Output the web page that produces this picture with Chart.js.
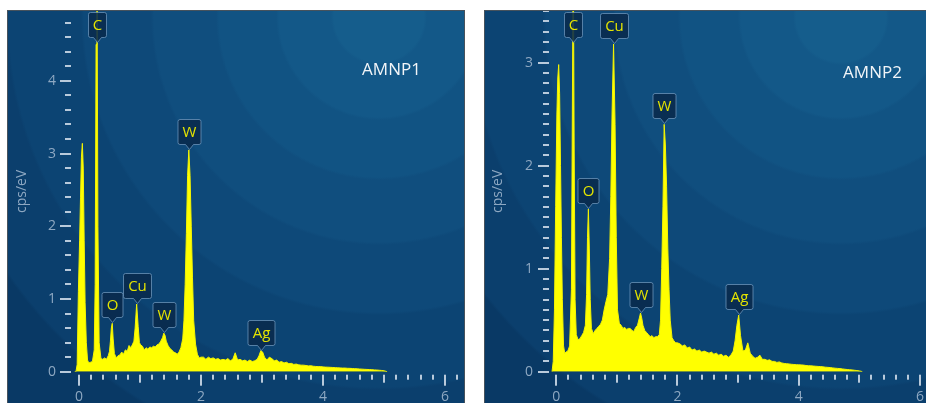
<!DOCTYPE html>
<html>
<head>
<meta charset="utf-8">
<title>EDS spectra AMNP1 / AMNP2</title>
<script src="https://cdn.jsdelivr.net/npm/chart.js@4.4.1/dist/chart.umd.min.js"></script>
<style>
  html, body { margin: 0; padding: 0; background: #ffffff; }
  body { position: relative; width: 926px; height: 403px; overflow: hidden; }
  .panel { position: absolute; top: 10px; border: 1px solid #47525c; border-bottom: none; }
  #panel1 { left: 7px; }
  #panel2 { left: 484px; border-right: none; }
  canvas { display: block; }
</style>
</head>
<body>
<div class="panel" id="panel1"><canvas id="amnp1" width="456" height="392"></canvas></div>
<div class="panel" id="panel2"><canvas id="amnp2" width="441" height="392"></canvas></div>
<script>
// energy channels shared by both spectra (keV)
const energy = [
  -0.07, -0.05, -0.03, -0.01, 0.01, 0.025, 0.04, 0.055, 0.07, 0.085,
  0.10, 0.12, 0.14, 0.16, 0.19, 0.22, 0.25, 0.265, 0.28, 0.295,
  0.31, 0.33, 0.36, 0.39, 0.42, 0.45, 0.48, 0.50, 0.515, 0.53,
  0.545, 0.56, 0.58, 0.61, 0.64, 0.67, 0.70, 0.73, 0.76, 0.79,
  0.82, 0.85, 0.88, 0.90, 0.92, 0.945, 0.97, 0.99, 1.01, 1.04,
  1.07, 1.10, 1.13, 1.16, 1.19, 1.22, 1.25, 1.28, 1.31, 1.34,
  1.37, 1.39, 1.41, 1.43, 1.46, 1.49, 1.52, 1.55, 1.58, 1.61,
  1.64, 1.67, 1.70, 1.72, 1.74, 1.76, 1.78, 1.80, 1.82, 1.84,
  1.86, 1.88, 1.91, 1.94, 1.97, 2.00, 2.04, 2.08, 2.12, 2.16,
  2.20, 2.24, 2.28, 2.32, 2.36, 2.40, 2.44, 2.48, 2.52, 2.56,
  2.60, 2.64, 2.68, 2.72, 2.76, 2.80, 2.84, 2.88, 2.92, 2.95,
  2.98, 3.01, 3.04, 3.08, 3.12, 3.16, 3.20, 3.24, 3.28, 3.32,
  3.36, 3.40, 3.44, 3.48, 3.52, 3.56, 3.60, 3.64, 3.68, 3.72,
  3.76, 3.80, 3.84, 3.88, 3.92, 3.96, 4.00, 4.04, 4.08, 4.12,
  4.16, 4.20, 4.24, 4.28, 4.32, 4.36, 4.40, 4.44, 4.48, 4.52,
  4.56, 4.60, 4.64, 4.68, 4.72, 4.76, 4.80, 4.84, 4.88, 4.92,
  4.96, 5.00, 5.03, 5.05
];

// cps/eV, AMNP1
const amnp1 = [
  0, 0, 0.1, 1.1, 1.8, 2.4, 2.95, 3.14, 2.8, 1.8,
  0.95, 0.4, 0.16, 0.12, 0.13, 0.14, 0.3, 1.2, 4.5, 5.5,
  2.0, 0.4, 0.18, 0.17, 0.19, 0.17, 0.22, 0.28, 0.42, 0.6,
  0.665, 0.45, 0.25, 0.19, 0.22, 0.23, 0.27, 0.24, 0.3, 0.28,
  0.36, 0.33, 0.38, 0.42, 0.6, 0.93, 0.62, 0.4, 0.37, 0.35,
  0.3, 0.33, 0.31, 0.34, 0.33, 0.35, 0.34, 0.37, 0.38, 0.42,
  0.47, 0.53, 0.5, 0.42, 0.36, 0.32, 0.3, 0.27, 0.26, 0.24,
  0.27, 0.33, 0.45, 0.7, 1.2, 1.9, 2.7, 3.05, 2.7, 2.0,
  1.3, 0.7, 0.38, 0.24, 0.19, 0.2, 0.2, 0.17, 0.2, 0.18,
  0.19, 0.17, 0.18, 0.16, 0.17, 0.16, 0.18, 0.15, 0.17, 0.26,
  0.16, 0.17, 0.15, 0.16, 0.14, 0.16, 0.14, 0.15, 0.17, 0.22,
  0.29, 0.27, 0.2, 0.16, 0.2, 0.18, 0.15, 0.16, 0.13, 0.14,
  0.12, 0.13, 0.11, 0.115, 0.1, 0.105, 0.095, 0.09, 0.09, 0.085,
  0.08, 0.082, 0.075, 0.072, 0.07, 0.07, 0.066, 0.063, 0.062, 0.06,
  0.058, 0.056, 0.054, 0.052, 0.05, 0.05, 0.047, 0.046, 0.044, 0.042,
  0.04, 0.037, 0.035, 0.033, 0.031, 0.03, 0.028, 0.025, 0.023, 0.02,
  0.017, 0.012, 0.006, 0
];

// cps/eV, AMNP2
const amnp2 = [
  0, 0.1, 0.6, 1.6, 2.5, 2.85, 2.98, 2.7, 2.0, 1.3,
  0.7, 0.25, 0.18, 0.19, 0.2, 0.25, 0.8, 2.5, 4.2, 2.2,
  0.7, 0.36, 0.31, 0.32, 0.35, 0.38, 0.45, 0.75, 1.3, 1.58,
  1.2, 0.7, 0.42, 0.37, 0.4, 0.42, 0.44, 0.46, 0.5, 0.6,
  0.68, 0.75, 1.1, 1.7, 2.5, 3.18, 2.4, 1.3, 0.6, 0.47,
  0.45, 0.42, 0.43, 0.41, 0.42, 0.42, 0.4, 0.39, 0.43, 0.45,
  0.52, 0.57, 0.52, 0.45, 0.4, 0.38, 0.36, 0.34, 0.35, 0.33,
  0.34, 0.34, 0.36, 0.5, 1.0, 1.6, 2.4, 2.2, 1.8, 1.2,
  0.8, 0.5, 0.33, 0.3, 0.28, 0.28, 0.27, 0.25, 0.26, 0.23,
  0.24, 0.21, 0.22, 0.2, 0.21, 0.19, 0.2, 0.19, 0.18, 0.19,
  0.17, 0.18, 0.16, 0.17, 0.15, 0.16, 0.14, 0.16, 0.2, 0.3,
  0.45, 0.55, 0.35, 0.2, 0.21, 0.28, 0.18, 0.15, 0.13, 0.14,
  0.16, 0.12, 0.12, 0.11, 0.115, 0.1, 0.1, 0.09, 0.095, 0.085,
  0.08, 0.078, 0.075, 0.072, 0.07, 0.068, 0.067, 0.066, 0.064, 0.06,
  0.058, 0.057, 0.055, 0.053, 0.051, 0.05, 0.047, 0.044, 0.042, 0.04,
  0.037, 0.034, 0.032, 0.03, 0.027, 0.024, 0.021, 0.019, 0.017, 0.014,
  0.011, 0.008, 0.004, 0
];

// element markers
const peaks1 = ["C", "O", "Cu", "W", "W", "Ag"];
const peakEnergy1 = [0.29, 0.545, 0.945, 1.40, 1.80, 2.99];
const peaks2 = ["C", "O", "Cu", "W", "W", "Ag"];
const peakEnergy2 = [0.28, 0.53, 0.945, 1.39, 1.78, 3.01];

// labelled ticks
const xLabels = [0, 2, 4, 6];
const yLabels1 = [0, 1, 2, 3, 4];
const yLabels2 = [0, 1, 2, 3];

const labelColor = "#8ea8c2";
const markColor = "#b9cadb";

const panelBackground = {
    id: "panelBackground",
    beforeDraw(chart) {
        const { ctx, width, height } = chart;
        const cx = width - 85, cy = 6, R = 600;
        const radii = [45, 100, 160, 225, 295, 370, 450, 600];
        const colors = ["#155d8c", "#135888", "#115383", "#104e7e", "#0e4979", "#0c4473", "#0b3f6d", "#093965"];
        const g = ctx.createRadialGradient(cx, cy, 0, cx, cy, R);
        let prev = 0;
        radii.forEach((r, i) => {
            g.addColorStop(prev, colors[i]);
            g.addColorStop(Math.min(r / R, 1), colors[i]);
            prev = Math.min(r / R + 0.005, 1);
        });
        ctx.save();
        ctx.fillStyle = g;
        ctx.fillRect(0, 0, width, height);
        ctx.restore();
    }
};

// minor / medium / major tick marks along both axes
const tickMarks = {
    id: "tickMarks",
    afterDraw(chart, args, opts) {
        const { ctx, chartArea, scales: { x, y } } = chart;
        ctx.save();
        ctx.fillStyle = markColor;
        for (let k = Math.ceil(x.min / 0.2); k <= Math.floor(x.max / 0.2); k++) {
            const len = k % 10 === 0 ? 11 : (k % 5 === 0 ? 8 : 5);
            const px = Math.round(x.getPixelForValue(k * 0.2));
            ctx.fillRect(px - 1, chartArea.bottom + 3, 2, len);
        }
        const n = opts.yPerUnit;
        for (let k = 0; k <= Math.floor(y.max * n + 1e-6); k++) {
            const len = k % n === 0 ? 11 : 6;
            const py = Math.round(y.getPixelForValue(k / n));
            ctx.fillRect(chartArea.left - len, py - 1, len, 2);
        }
        ctx.restore();
    }
};

const peakTags = {
    id: "peakTags",
    afterDatasetsDraw(chart, args, opts) {
        const { ctx, chartArea, scales: { x, y } } = chart;
        const pts = chart.data.datasets[0].data;
        ctx.save();
        ctx.font = '15px "Open Sans"';
        ctx.textAlign = "center";
        ctx.textBaseline = "middle";
        opts.names.forEach((name, i) => {
            const e = opts.energies[i];
            let top = 0;
            pts.forEach(p => { if (Math.abs(p.x - e) <= 0.021 && p.y > top) top = p.y; });
            const px = Math.round(x.getPixelForValue(e)) + 0.5;
            const py = y.getPixelForValue(top);
            const w = Math.round(ctx.measureText(name).width + 9), h = 25;
            const bx = px - w / 2;
            const by = Math.round(Math.max(py - 6 - h, chartArea.top + 1)) + 0.5;
            const r = 2;
            ctx.beginPath();
            ctx.moveTo(bx + r, by);
            ctx.lineTo(bx + w - r, by);
            ctx.quadraticCurveTo(bx + w, by, bx + w, by + r);
            ctx.lineTo(bx + w, by + h - r);
            ctx.quadraticCurveTo(bx + w, by + h, bx + w - r, by + h);
            ctx.lineTo(px + 4, by + h);
            ctx.lineTo(px, by + h + 5);
            ctx.lineTo(px - 4, by + h);
            ctx.lineTo(bx + r, by + h);
            ctx.quadraticCurveTo(bx, by + h, bx, by + h - r);
            ctx.lineTo(bx, by + r);
            ctx.quadraticCurveTo(bx, by, bx + r, by);
            ctx.closePath();
            ctx.fillStyle = "rgba(9, 42, 76, 0.88)";
            ctx.fill();
            ctx.strokeStyle = "rgba(112, 152, 190, 0.75)";
            ctx.lineWidth = 1;
            ctx.stroke();
            ctx.fillStyle = "#e4e400";
            ctx.fillText(name, px, by + h / 2 + 1);
        });
        ctx.restore();
    }
};

const sampleName = {
    id: "sampleName",
    afterDraw(chart, args, opts) {
        const { ctx } = chart;
        ctx.save();
        ctx.font = '17px "Open Sans"';
        ctx.fillStyle = "#f2f5f8";
        ctx.textAlign = "center";
        ctx.textBaseline = "middle";
        ctx.fillText(opts.text, opts.x, opts.y);
        ctx.restore();
    }
};

function noPadding(s) {
    s.paddingTop = 0;
    s.paddingBottom = 0;
    s.paddingLeft = 0;
    s.paddingRight = 0;
}

function drawSpectrum(canvasId, counts, cfg) {
    return new Chart(document.getElementById(canvasId), {
        type: "line",
        plugins: [panelBackground, tickMarks, peakTags, sampleName],
        data: {
            datasets: [{
                data: energy.map((e, i) => ({ x: e, y: counts[i] })),
                borderColor: "#f4f400",
                backgroundColor: "#ffff00",
                borderWidth: 1,
                fill: "origin",
                pointRadius: 0,
                tension: 0
            }]
        },
        options: {
            responsive: false,
            animation: false,
            devicePixelRatio: 1,
            layout: { padding: 0 },
            plugins: {
                legend: { display: false },
                tooltip: { enabled: false },
                tickMarks: { yPerUnit: cfg.yPerUnit },
                peakTags: { names: cfg.peaks, energies: cfg.peakEnergy },
                sampleName: { text: cfg.name, x: cfg.nameX, y: cfg.nameY }
            },
            scales: {
                x: {
                    type: "linear",
                    min: cfg.xMin,
                    max: cfg.xMax,
                    border: { display: false },
                    grid: { display: false, drawTicks: false },
                    ticks: {
                        autoSkip: false,
                        maxRotation: 0,
                        padding: 17,
                        color: labelColor,
                        font: { family: "Open Sans", size: 14 },
                        callback: v => String(v)
                    },
                    afterBuildTicks: s => { s.ticks = xLabels.map(v => ({ value: v })); },
                    afterFit: s => { s.height = 31.3; noPadding(s); }
                },
                y: {
                    type: "linear",
                    min: 0,
                    max: cfg.yMax,
                    border: { display: false },
                    grid: { display: false, drawTicks: false },
                    title: {
                        display: true,
                        text: "cps/eV",
                        color: labelColor,
                        font: { family: "Open Sans", size: 14 },
                        padding: { top: cfg.titlePad, bottom: 0 }
                    },
                    ticks: {
                        autoSkip: false,
                        padding: cfg.yLabelPad,
                        color: labelColor,
                        font: { family: "Open Sans", size: 14 },
                        callback: v => String(v)
                    },
                    afterBuildTicks: s => { s.ticks = cfg.yLabels.map(v => ({ value: v })); },
                    afterFit: s => { s.width = cfg.yAxisWidth; noPadding(s); }
                }
            }
        }
    });
}

drawSpectrum("amnp1", amnp1, {
    name: "AMNP1", nameX: 383.5, nameY: 59,
    peaks: peaks1, peakEnergy: peakEnergy1,
    xMin: -0.131, xMax: 6.31, yMax: 4.96, yPerUnit: 5, yLabels: yLabels1,
    yAxisWidth: 63, yLabelPad: 15, titlePad: 6
});

drawSpectrum("amnp2", amnp2, {
    name: "AMNP2", nameX: 387.5, nameY: 62,
    peaks: peaks2, peakEnergy: peakEnergy2,
    xMin: -0.12, xMax: 6.1, yMax: 3.5, yPerUnit: 10, yLabels: yLabels2,
    yAxisWidth: 64, yLabelPad: 16, titlePad: 5
});
</script>
</body>
</html>
